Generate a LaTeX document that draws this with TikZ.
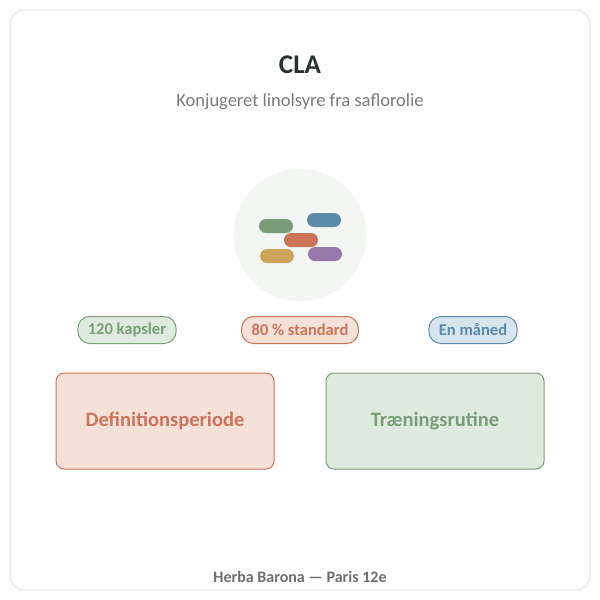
\documentclass[tikz,border=0pt]{standalone}
\usepackage{fontspec}
\setmainfont{Carlito}
\begin{document}
\begin{tikzpicture}[x=1pt,y=-1pt,
 pill/.style={rounded corners=7pt,minimum width=34pt,minimum height=14pt,inner sep=0pt},
 tag/.style={rounded corners=12pt,draw,line width=1pt,minimum height=27pt,inner xsep=10pt,font=\fontsize{16.5}{18}\selectfont\bfseries},
 box/.style={rounded corners=8pt,draw,line width=1pt,minimum width=218pt,minimum height=96pt,font=\fontsize{20.5}{23}\selectfont\bfseries}]
\definecolor{gF}{HTML}{E0EBDF}\definecolor{gD}{HTML}{7A9E78}
\definecolor{oF}{HTML}{F6E1D9}\definecolor{oD}{HTML}{CC7458}
\definecolor{bF}{HTML}{D6E5EE}\definecolor{bD}{HTML}{5B8BAA}
\useasboundingbox (0,0) rectangle (600,600);
\fill[white] (0,0) rectangle (600,600);
\draw[rounded corners=14pt,draw={rgb,255:red,225;green,225;blue,225},line width=1pt] (10,10) rectangle (590,590);
\node (title) at (300,65) {\fontsize{27}{30}\selectfont\bfseries\color[HTML]{2B3330}CLA};
\node (sub) at (300,102) {\fontsize{18.5}{21}\selectfont\color[HTML]{7A7A7A}Konjugeret linolsyre fra saflorolie};
\node[circle,fill={rgb,255:red,244;green,246;blue,243},minimum size=132pt] (circ) at (300,235) {};
\node[pill,fill={rgb,255:red,122;green,156;blue,120}] (p1) at (276,226) {};
\node[pill,fill={rgb,255:red,91;green,139;blue,170}] (p2) at (324,220) {};
\node[pill,fill={rgb,255:red,204;green,116;blue,88}] (p3) at (301,240) {};
\node[pill,fill={rgb,255:red,204;green,164;blue,90}] (p4) at (277,256) {};
\node[pill,fill={rgb,255:red,152;green,120;blue,170}] (p5) at (325,254) {};
\node[tag,fill=gF,draw=gD,text=gD] (t1) at (127,330) {120 kapsler};
\node[tag,fill=oF,draw=oD,text=oD] (t2) at (300,330) {80 \% standard};
\node[tag,fill=bF,draw=bD,text=bD] (t3) at (473,330) {En måned};
\node[box,fill=oF,draw=oD,text=oD] (b1) at (165,421) {Definitionsperiode};
\node[box,fill=gF,draw=gD,text=gD] (b2) at (435,421) {Træningsrutine};
\node (foot) at (300,577) {\fontsize{16}{18}\selectfont\bfseries\color[HTML]{6E6E6E}Herba Barona — Paris 12e};
\end{tikzpicture}
\end{document}
